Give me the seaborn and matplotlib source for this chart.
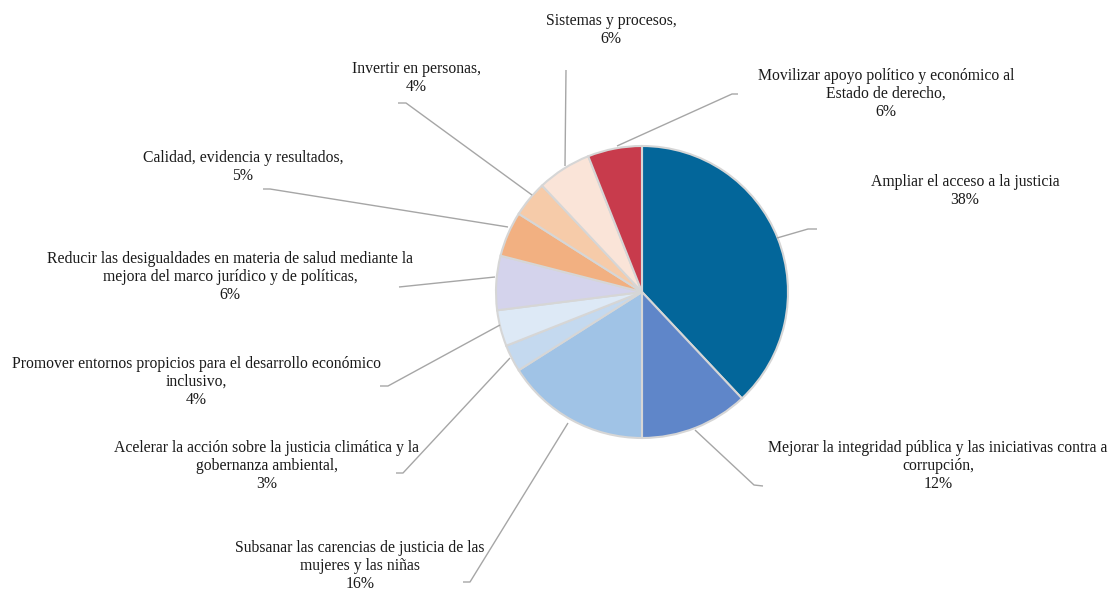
import matplotlib
matplotlib.use("Agg")
import matplotlib.pyplot as plt
import seaborn as sns

# ---- data ----
categories = [
    "Ampliar el acceso a la justicia",
    "Mejorar la integridad pública y las iniciativas contra a\ncorrupción,",
    "Subsanar las carencias de justicia de las\nmujeres y las niñas",
    "Acelerar la acción sobre la justicia climática y la\ngobernanza ambiental,",
    "Promover entornos propicios para el desarrollo económico\ninclusivo,",
    "Reducir las desigualdades en materia de salud mediante la\nmejora del marco jurídico y de políticas,",
    "Calidad, evidencia y resultados,",
    "Invertir en personas,",
    "Sistemas y procesos,",
    "Movilizar apoyo político y económico al\nEstado de derecho,",
]
values = [38, 12, 16, 3, 4, 6, 5, 4, 6, 6]
colors = ["#03669a", "#5f86c9", "#a0c3e6", "#c4d9ef", "#dde9f6",
          "#d4d3ec", "#f2b081", "#f6cba9", "#fae4d8", "#c83b4c"]

# ---- layout (pixel coords, y measured from top) ----
W, H = 1109, 590
center = (642, 292)
radius = 146
label_xy = [(965, 191), (938, 466), (360, 566), (267, 466), (196, 382),
            (230, 277), (243, 167), (416, 78), (611, 30), (886, 94)]
leaders = [
    [(777, 238), (808, 229), (817, 229)],
    [(695, 430), (754, 485), (763, 486)],
    [(568, 423), (470, 582), (463, 582)],
    [(510, 358), (403, 473), (396, 473)],
    [(500, 325), (388, 386), (380, 386)],
    [(495, 277), (399, 287)],
    [(508, 227), (270, 189), (263, 189)],
    [(532, 195), (406, 103), (398, 103)],
    [(565, 166), (566, 70)],
    [(617, 146), (732, 94), (738, 94)],
]

sns.set_theme(style="white")
plt.rcParams["font.family"] = ["Liberation Serif", "DejaVu Serif"]

fig = plt.figure(figsize=(W / 100, H / 100), dpi=100)
ax = fig.add_axes([0, 0, 1, 1])

ax.pie(values, colors=colors, startangle=90, counterclock=False,
       center=(center[0], H - center[1]), radius=radius,
       wedgeprops=dict(edgecolor="#d6d6d6", linewidth=1.5))

total = sum(values)
for cat, v, (lx, ly), pts in zip(categories, values, label_xy, leaders):
    pct = round(100 * v / total)
    ax.text(lx, H - ly, f"{cat}\n{pct}%", ha="center", va="center",
            fontsize=11.3, color="#1a1a1a", linespacing=1.15)
    xs = [p[0] for p in pts]
    ys = [H - p[1] for p in pts]
    ax.plot(xs, ys, color="#a6a6a6", linewidth=1.0, solid_capstyle="butt")

ax.set_xlim(0, W)
ax.set_ylim(0, H)
ax.set_aspect("equal")
ax.set_axis_off()
fig.savefig("out.png", dpi=100, facecolor="white")
